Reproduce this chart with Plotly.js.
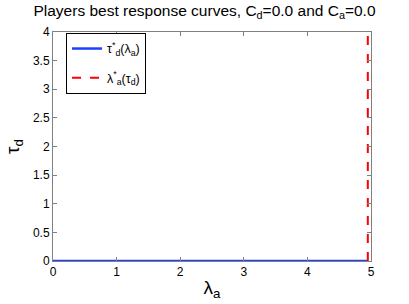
<!DOCTYPE html>
<html><head><meta charset="utf-8">
<script src="https://cdn.plot.ly/plotly-3.0.1.min.js"></script>
<style>html,body{margin:0;padding:0;background:#fff}#c{width:409px;height:304px}</style>
</head><body><div id="c"></div>
<script>
const tauX = [0, 4.95];
const tauY = [0, 0];
const lamX = [4.95, 4.95];
const lamY = [0, 4];
const xTicks = [0, 1, 2, 3, 4, 5];
const yTicks = [0, 0.5, 1, 1.5, 2, 2.5, 3, 3.5, 4];

const font = {family: 'Liberation Sans, Arial, sans-serif', color: '#000'};
const axisCommon = {
  showgrid: false, zeroline: false, showline: true, linecolor: '#808080', linewidth: 1,
  mirror: 'ticks', ticks: 'inside', ticklen: 4, tickcolor: '#808080',
  tickfont: {family: font.family, size: 12, color: '#000'}
};
Plotly.newPlot('c', [
  {x: tauX, y: tauY, mode: 'lines', name: 'τ<sup>*</sup><sub>d</sub>(λ<sub>a</sub>)', legendgroup: 'a',
   line: {color: '#1f3fff', width: 2.5}},
  {x: lamX, y: lamY, mode: 'lines', name: 'λ<sup>*</sup><sub>a</sub>(τ<sub>d</sub>)', legendgroup: 'b',
   line: {color: '#ff0000', width: 2, dash: 'dash'}}
], {
  width: 409, height: 304,
  margin: {l: 53, r: 38, t: 32, b: 43},
  paper_bgcolor: '#fff', plot_bgcolor: '#fff',
  font: font,
  title: {text: 'Players best response curves, C<sub>d</sub>=0.0 and C<sub>a</sub>=0.0',
          font: {family: font.family, size: 15.5, color: '#000'}, x: 0.5, xanchor: 'center', y: 0.965, yanchor: 'middle'},
  xaxis: Object.assign({}, axisCommon, {range: [0, 5], tickvals: xTicks, ticktext: xTicks.map(String),
    title: {text: 'λ<sub>a</sub>', font: {family: font.family, size: 19}, standoff: 2}}),
  yaxis: Object.assign({}, axisCommon, {range: [0, 4], tickvals: yTicks, ticktext: yTicks.map(String),
    title: {text: 'τ<sub>d</sub>', font: {family: font.family, size: 19}, standoff: 8}}),
  showlegend: true,
  legend: {x: 0.041, y: 0.996, xanchor: 'left', yanchor: 'top', bgcolor: '#fff', tracegroupgap: 10,
    bordercolor: '#000', borderwidth: 1, font: {family: font.family, size: 12.5, color: '#000'}}
}, {staticPlot: true});
</script></body></html>
